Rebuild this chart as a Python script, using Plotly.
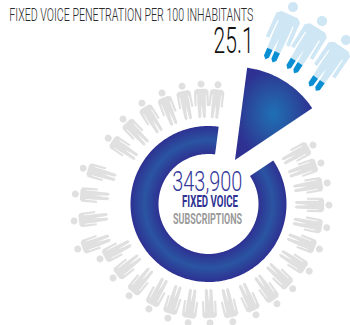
import json
import math
import plotly.graph_objects as go

# Share of the circle taken by the pulled-out wedge and by the ring, in percent
segment_names = ["Penetration wedge", "Remaining ring"]
segment_shares = [13.5, 86.5]

title_text = "FIXED VOICE PENETRATION PER 100 INHABITANTS"
penetration_label = "25.1"
subscriptions_label = "343,900"
centre_line_one = "FIXED VOICE"
centre_line_two = "SUBSCRIPTIONS"

# Grey figures around the ring: bearing clockwise from north, distance from the hub
crowd_bearing = [-1.9, 6.2, -11, -21.2, -32, -44, -55.8, -73.6, -85.6, -97.4, -109.5, -117.6,
                 -128.8, -140.4, -151.9, -162, -171.9, 177.6, 166.7, 155.3, 144.2, 134,
                 122.8, 111.5, 101, 90.5, 80.2, 70.5, 61.4]
crowd_reach = [120, 120, 120, 119, 119, 118, 117, 127, 130, 132, 135, 118.5,
               118, 119, 119, 120, 120, 119, 121, 122, 123, 122,
               124, 123, 124, 124, 124, 123, 123]

# Highlighted figures: head position and lean in degrees
lead_head_x = [293, 322, 346]
lead_head_y = [7, 21, 40]
lead_lean = [24, 32, 34.5]

HUB_RING = (208.5, 204)
HUB_CROWD = (205, 204)
RING_OUTER, RING_INNER = 78, 50
WEDGE_APEX = (235, 160)
WEDGE_RADIUS = 93
START_BEARING = 7.5

NAVY = "#2e3192"
MID_BLUE = "#2a55a2"
GREY = "#e0e0e0"

# Figure outline with the head centre at the origin, pointing up (y grows towards the feet)
BODY = [(-5.5, 4.6), (5.5, 4.6), (8, 6.5), (8, 21), (5.7, 21), (5.4, 10), (4.7, 10), (4.7, 19),
        (4.3, 26.5), (0.7, 26.5), (0.1, 19), (-0.7, 26.5), (-4.3, 26.5), (-4.7, 19), (-4.7, 10),
        (-5.4, 10), (-5.7, 21), (-8, 21), (-8, 6.5)]
FOOT_L = [(-4.3, 26.5), (-0.7, 26.5), (-0.8, 31.2), (-2.4, 32.8), (-4.2, 31.2)]
FOOT_R = [(0.7, 26.5), (4.3, 26.5), (4.2, 31.2), (2.4, 32.8), (0.8, 31.2)]
HEAD = [(3.5 * math.cos(a / 12 * math.pi), 3.5 * math.sin(a / 12 * math.pi)) for a in range(24)]


def place(points, hx, hy, lean, scale=1.0, girth=1.0):
    t = math.radians(lean)
    xs, ys = [], []
    for px, py in points + points[:1]:
        px, py = px * scale * girth, py * scale
        xs.append(hx + px * math.cos(t) - py * math.sin(t))
        ys.append(hy + px * math.sin(t) + py * math.cos(t))
    return xs + [None], ys + [None]


def collect(parts):
    xs, ys = [], []
    for px, py in parts:
        xs += px
        ys += py
    return xs, ys


def polar(hub, radius, bearing):
    b = math.radians(bearing)
    return hub[0] + radius * math.sin(b), hub[1] - radius * math.cos(b)


wedge_sweep = segment_shares[0] * 3.6
ring_sweep = segment_shares[1] * 3.6
ring_start = START_BEARING + wedge_sweep

ring_bearings = [ring_start + ring_sweep * i / 240 for i in range(241)]
ring_pts = [polar(HUB_RING, RING_OUTER, b) for b in ring_bearings] + \
           [polar(HUB_RING, RING_INNER, b) for b in reversed(ring_bearings)]
wedge_pts = [WEDGE_APEX] + [polar(WEDGE_APEX, WEDGE_RADIUS, START_BEARING + wedge_sweep * i / 40)
                            for i in range(41)]

crowd_parts = []
for bearing, reach in zip(crowd_bearing, crowd_reach):
    hx, hy = polar(HUB_CROWD, reach, bearing)
    for shape in (BODY, FOOT_L, FOOT_R):
        crowd_parts.append(place(shape, hx, hy, bearing, 1.05, 0.86))
    crowd_parts.append(place(HEAD, hx, hy, bearing))
crowd_x, crowd_y = collect(crowd_parts)

lead_parts, feet_parts = [], []
for hx, hy, lean in zip(lead_head_x, lead_head_y, lead_lean):
    lead_parts.append(place(BODY, hx, hy, lean, 1.8, 0.9))
    lead_parts.append(place(HEAD, hx, hy, lean, 1.45))
    feet_parts.append(place(FOOT_L, hx, hy, lean, 1.8, 0.9))
    feet_parts.append(place(FOOT_R, hx, hy, lean, 1.8, 0.9))
lead_x, lead_y = collect(lead_parts)
feet_x, feet_y = collect(feet_parts)

fig = go.Figure()
fig.add_trace(go.Scatter(x=crowd_x, y=crowd_y, mode="none", fill="toself", fillcolor=GREY))
fig.add_trace(go.Scatter(x=lead_x, y=lead_y, mode="none", fill="toself", fillcolor="#cfe7f5"))
fig.add_trace(go.Scatter(x=feet_x, y=feet_y, mode="none", fill="toself", fillcolor="#0a8fd3"))
fig.add_trace(go.Scatter(
    x=[p[0] for p in ring_pts], y=[p[1] for p in ring_pts], name=segment_names[1],
    mode="none", fill="toself",
    fillgradient=dict(type="radial", colorscale=[[0, NAVY], [0.64, NAVY], [0.82, MID_BLUE], [1, NAVY]]),
))
fig.add_trace(go.Scatter(
    x=[p[0] for p in wedge_pts], y=[p[1] for p in wedge_pts], name=segment_names[0],
    mode="none", fill="toself",
    fillgradient=dict(type="radial", colorscale=[[0, "#1f70b6"], [0.55, "#28509f"], [1, NAVY]]),
))

# Condensed headline type: labels are set small, fitted to a run length
# and stretched upright around their baseline once drawn
run_lengths = {}
upright_stretch = {}


def label(text, x, baseline, size, color, run, stretch, weight=400):
    run_lengths[text] = run
    upright_stretch[text] = stretch
    fig.add_annotation(x=x, y=baseline - 0.35 * size, text=text, showarrow=False,
                       xanchor="center", yanchor="middle",
                       font=dict(family="Roboto", size=size, color=color, weight=weight))


label(title_text, 131, 21, 12.5, "#2b2b2b", 244, 1.46, 300)
label(penetration_label, 233, 53, 20.6, "#111111", 40, 1.78, 300)
label(subscriptions_label, 207, 191, 19.5, "#34389a", 70, 1.44, 300)
label(centre_line_one, 210, 207, 9, NAVY, 56, 1.75, 700)
label(centre_line_two, 207.5, 224, 9, "#9a9a9a", 69, 1.6, 700)

fig.update_layout(
    width=350, height=325, margin=dict(l=0, r=0, t=0, b=0), showlegend=False,
    paper_bgcolor="white", plot_bgcolor="white",
    xaxis=dict(range=[0, 350], visible=False, fixedrange=True),
    yaxis=dict(range=[325, 0], visible=False, fixedrange=True),
)

fit_labels = """
var runs = %s, stretch = %s;
document.querySelectorAll('.annotation-text').forEach(function (el) {
  var key = el.textContent, run = runs[key], k = stretch[key];
  if (run) {
    el.setAttribute('textLength', run);
    el.setAttribute('lengthAdjust', 'spacingAndGlyphs');
  }
  if (k) {
    var base = parseFloat(el.getAttribute('y')) || 0;
    el.setAttribute('transform', 'translate(0,' + base + ') scale(1,' + k + ') translate(0,' + (-base) + ')');
  }
});
""" % (json.dumps(run_lengths), json.dumps(upright_stretch))

fig.write_html("out.html", config={"displayModeBar": False}, post_script=fit_labels)
